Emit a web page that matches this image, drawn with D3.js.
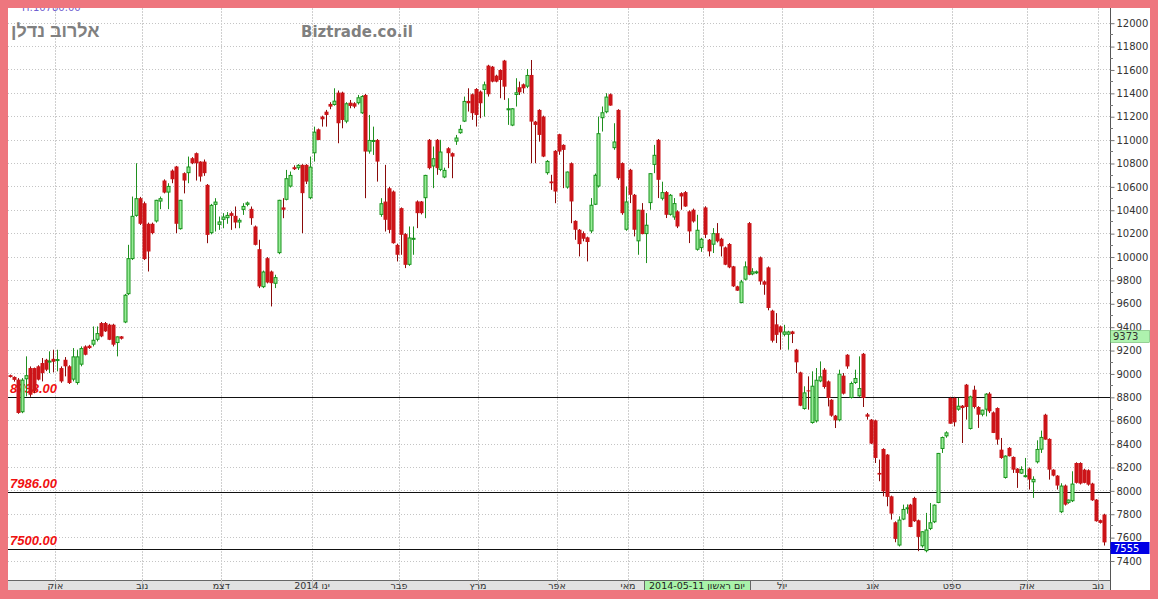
<!DOCTYPE html>
<html><head><meta charset="utf-8">
<script src="https://cdnjs.cloudflare.com/ajax/libs/d3/7.8.5/d3.min.js"></script>
<style>html,body{margin:0;padding:0;background:#fff;}svg{display:block;}</style>
</head><body>
<script>
// ---- DATA ----
const openV = [8985,8970,8947,8668,8950,9046,9046,9061,9089,9117,9103,9125,9110,9046,9117,9061,8947,8918,9075,9231,9237,9246,9288,9431,9431,9417,9417,9260,9317,9436,
9678,9978,10348,10499,10456,10280,10280,10300,10470,10650,10547,10735,10770,10234,10713,10713,10841,10884,10812,10812,
10613,10200,10442,10271,10314,10328,10371,10348,10291,10399,10442,10408,10257,10063,9738,9986,9872,9767,10029,10420,
10485,10598,10764,10755,10784,10784,10499,10883,11088,11197,11239,11305,11296,11402,11402,11154,11316,11311,11311,11225,
11382,10898,10990,10997,10356,10470,10584,10556,10100,10414,10192,9929,10150,10471,10471,10499,10998,10770,10998,10741,
10676,10926,10884,10983,11055,11154,11331,11388,11433,11411,11425,11633,11624,11547,11596,11676,11258,11120,11382,11448,
11473,11453,11553,11154,11254,11197,10713,10642,10904,11046,10955,10590,10798,10305,10229,10200,10164,10215,10443,10599,
11183,11234,11388,10927,11254,10799,10229,10742,10528,10130,10400,10192,10457,10784,10998,10494,10551,10357,10334,10386,
10542,10551,10386,10400,10058,10072,10420,10144,10101,10200,10152,10078,10107,9916,9745,9602,9802,10286,9848,9860,
9993,9787,9907,9537,9420,9402,9331,9331,9359,9203,9009,8696,8855,8576,8590,8932,9032,8932,8775,8639,
8599,8981,9160,8790,8918,8804,9168,8650,8605,8599,8149,8354,8306,7949,7727,7528,7750,7841,7878,7935,
7744,7522,7480,7670,7727,7892,8354,8462,8790,8790,8690,8724,8904,8525,8861,8713,8647,8690,8827,8667,
8704,8348,8106,8363,8286,8186,8143,8120,8186,8069,8240,8348,8647,8440,8177,8126,7813,8041,7893,7907,
8234,8234,8177,8172,8058,7921,7745,7793];
const highV = [8990,8975,8960,8960,9146,9060,9050,9070,9132,9125,9189,9203,9203,9060,9140,9070,9217,9203,9231,9240,9245,9402,9402,9440,9440,9425,9425,9317,9320,9680,
10100,10513,10798,10510,10470,10290,10290,10485,10513,10660,10627,10745,10775,10485,10720,10855,10850,10890,10815,10830,
10620,10450,10499,10342,10371,10380,10385,10428,10328,10456,10470,10428,10265,10143,9880,9995,9880,9844,10485,10499,
10741,10727,10780,10790,10790,10790,10855,11111,11095,11205,11254,11320,11439,11420,11410,11320,11339,11320,11382,11380,
11390,11211,11111,11005,10499,10784,10595,10565,10110,10420,10200,10257,10257,10480,10475,10699,11005,10941,11005,10998,
10760,10935,10890,11040,11126,11368,11439,11395,11440,11420,11496,11640,11630,11555,11600,11682,11354,11270,11525,11496,
11480,11604,11681,11160,11260,11205,10825,10699,10910,11050,10960,10727,10805,10310,10235,10215,10170,10500,10710,11197,
11283,11397,11395,11140,11260,10805,10599,10750,10535,10400,10457,10371,10713,10955,11005,10640,10560,10535,10500,10395,
10550,10560,10395,10410,10357,10160,10430,10150,10243,10286,10160,10085,10115,9920,9750,9800,9958,10295,9900,9880,
10000,9795,9915,9545,9516,9410,9416,9365,9365,9210,9015,8890,8975,9018,9046,9103,9046,8940,8780,8645,
9032,9003,9165,8930,9032,9146,9175,8662,8610,8605,8263,8360,8310,7955,7735,7778,7878,7880,7885,7945,
7750,7650,7807,7892,7880,8320,8460,8505,8800,8800,8790,8730,8910,8810,8895,8720,8690,8832,8840,8675,
8710,8448,8300,8370,8290,8190,8206,8277,8195,8120,8428,8511,8655,8445,8180,8130,8061,8050,7921,8163,
8240,8240,8185,8180,8065,7925,7750,7800];
const lowV = [8965,8930,8655,8660,8804,8800,8830,8940,8932,9020,9003,9009,9018,8920,8975,8910,8932,8904,9061,9155,9210,9231,9274,9310,9355,9285,9231,9146,9290,9430,
9670,9970,10340,10270,9970,9872,10190,10290,10405,10540,10405,10627,10200,10230,10540,10627,10790,10650,10641,10690,
10114,10190,10214,10228,10242,10280,10228,10242,10242,10356,10430,10271,10095,9730,9730,9770,9573,9730,10020,10328,
10480,10590,10740,10740,10200,10620,10490,10812,10995,11111,11111,11260,11290,10969,11097,11140,11268,11268,11300,11220,
10499,10880,10869,10641,10340,10214,10200,10110,9958,10015,9901,9920,10015,10243,10360,10328,10745,10585,10699,10730,
10670,10756,10670,10955,11050,11150,11240,11169,11112,11183,11197,11368,11490,11490,11354,11340,11126,11115,11283,11382,
11396,11440,10798,10798,10983,10850,10700,10570,10456,10870,10585,10580,10285,10143,10001,10130,9958,10200,10440,10590,
11069,11225,11290,10913,10656,10357,10220,10457,10172,10015,10190,9944,10400,10713,10500,10480,10329,10350,10314,10243,
10400,10425,10115,10290,10050,10040,10158,10001,10030,10120,10001,9926,9900,9740,9706,9600,9795,9840,9840,9850,
9759,9673,9540,9265,9260,9203,9317,9203,9260,9003,8720,8690,8690,8570,8580,8925,8870,8718,8630,8533,
8590,8820,9040,8785,8910,8800,8713,8605,8395,8234,8078,7949,7864,7750,7556,7520,7745,7800,7685,7730,
7480,7510,7470,7660,7720,7890,8320,8450,8570,8547,8680,8405,8605,8520,8700,8534,8633,8633,8662,8490,
8391,8270,8100,8290,8149,8021,8140,8110,8007,7935,8230,8320,8434,8092,8120,8007,7805,7870,7885,7900,
8058,8050,8060,8040,7910,7732,7716,7528];
const closeV = [8970,8945,8662,8947,8985,8818,8850,8947,9003,9032,9110,9100,9123,8932,9061,8918,9146,9146,9217,9160,9217,9288,9345,9317,9360,9288,9246,9317,9297,9673,
9986,10348,10499,10280,9978,10043,10200,10485,10499,10547,10604,10661,10280,10485,10650,10770,10798,10798,10684,10713,
10185,10442,10470,10300,10342,10356,10348,10291,10314,10433,10462,10328,10100,9744,9872,9778,9772,9824,10485,10400,
10670,10698,10747,10784,10542,10641,10769,11068,10997,11174,11211,11282,11333,11140,11168,11311,11288,11282,11362,11373,
10898,10997,10997,10812,10456,10314,10228,10114,10015,10186,9929,10163,10160,10371,10371,10698,10756,10841,10756,10898,
10741,10884,10855,11018,11092,11331,11311,11226,11211,11311,11473,11388,11496,11496,11510,11453,11268,11268,11405,11405,
11439,11553,11154,11126,11040,10855,10818,10627,10556,10898,10912,10727,10471,10229,10106,10152,10124,10443,10699,11055,
11234,11368,11291,10984,10670,10371,10471,10528,10229,10400,10192,10272,10713,10870,10656,10551,10357,10528,10457,10257,
10514,10428,10215,10300,10229,10152,10186,10044,10200,10130,10087,9930,9907,9745,9708,9787,9916,9844,9873,9873,
9787,9759,9560,9280,9330,9351,9359,9359,9337,9095,8724,8838,8847,8895,8946,8975,8884,8790,8639,8599,
8998,8827,9060,8918,8961,8875,8790,8630,8400,8277,8135,7992,7944,7801,7585,7750,7841,7855,7687,7736,
7602,7650,7665,7727,7878,8320,8456,8496,8570,8582,8724,8704,8713,8804,8713,8647,8690,8827,8676,8491,
8434,8277,8297,8292,8177,8149,8183,8130,8092,8098,8354,8457,8434,8177,8126,8041,8041,7878,7921,8058,
8064,8058,8064,8049,7915,7736,7722,7555];

const monthLabels = ["אוק","נוב","דצמ","2014 ינו","פבר","מרץ","אפר","מאי","יונ","יול","אוג","ספט","אוק","נוב"];
const monthStartIdx = [12,34,54,77,99,119,139,157,176,196,219,239,258,276];
const yTickValues = [12000,11800,11600,11400,11200,11000,10800,10600,10400,10200,10000,9800,9600,9400,9200,9000,8800,8600,8400,8200,8000,7800,7600,7400];
const levelValues = [8798, 7986, 7500];
const levelLabels = ["8798.00", "7986.00", "7500.00"];
const markerValue = 9373;
const lastValue = 7555;
const stockName = "אלרוב נדלן";
const siteName = "Biztrade.co.il";
const topInfo = "H:10780.00";
const cursorDate = "2014-05-11 יום ראשון";
const cursorIdx = 174;

// ---- LAYOUT ----
const W = 1158, H = 599;
const plotL = 8, plotR = 1110, plotT = 8, plotB = 580, bandB = 590, frameR = 1150;
const N = closeV.length;

const svg = d3.select("body").append("svg").attr("width", W).attr("height", H)
  .style("font-family", "'DejaVu Sans', sans-serif");

const x = d3.scaleLinear().domain([0, N - 1]).range([10, 1104]);
const y = d3.scaleLinear().domain([7400, 12000]).range([560.5, 22.7]);
const step = (x(1) - x(0));

// frame
svg.append("rect").attr("width", W).attr("height", H).attr("fill", "#ee767e");
svg.append("rect").attr("x", plotL).attr("y", plotT).attr("width", frameR - plotL).attr("height", bandB - plotT).attr("fill", "#ffffff");

// top purple info (partly hidden by frame)
svg.append("text").attr("x", 22).attr("y", 11).attr("font-size", 10).attr("fill", "#6f5fd0").text(topInfo);

// horizontal grid
svg.append("g").selectAll("line").data(yTickValues).join("line")
  .attr("x1", plotL).attr("x2", plotR)
  .attr("y1", d => Math.round(y(d)) + 0.5).attr("y2", d => Math.round(y(d)) + 0.5)
  .attr("stroke", "#c4c4c4").attr("stroke-dasharray", "1,2");

// vertical grid at month starts
const gx = i => Math.round(x(i) - step / 2) + 0.5;
svg.append("g").selectAll("line").data(monthStartIdx).join("line")
  .attr("x1", gx).attr("x2", gx).attr("y1", plotT).attr("y2", bandB)
  .attr("stroke", "#cfcfcf").attr("stroke-dasharray", "2,1");

// title texts
svg.append("text").attr("x", 11).attr("y", 37).attr("font-size", 18).attr("font-weight", "bold")
  .attr("font-family", "'Liberation Sans', 'DejaVu Sans', sans-serif").attr("fill", "#808080").text(stockName);
svg.append("text").attr("x", 301).attr("y", 37).attr("font-size", 15).attr("font-weight", "bold")
  .attr("fill", "#808080").text(siteName);

// level lines + labels
svg.append("g").selectAll("line").data(levelValues).join("line")
  .attr("x1", plotL).attr("x2", plotR)
  .attr("y1", d => Math.round(y(d)) + 0.5).attr("y2", d => Math.round(y(d)) + 0.5)
  .attr("stroke", "#111").attr("stroke-width", 1);
svg.append("g").selectAll("text").data(levelValues).join("text")
  .attr("x", 10).attr("y", d => Math.round(y(d)) - 4)
  .attr("font-family", "'Liberation Sans', sans-serif")
  .attr("font-size", 13).attr("font-weight", "bold").attr("font-style", "italic")
  .attr("fill", "#f01010").text((d, i) => levelLabels[i]);

// candles
svg.append("clipPath").attr("id", "plotclip").append("rect")
  .attr("x", plotL).attr("y", plotT).attr("width", plotR - plotL).attr("height", plotB - plotT);
const cg = svg.append("g").attr("clip-path", "url(#plotclip)");
const idx = d3.range(N);
const up = i => closeV[i] >= openV[i];
const cx = i => Math.round(x(i));
cg.selectAll("line.wick").data(idx).join("line").attr("class", "wick")
  .attr("x1", i => cx(i) + 0.5).attr("x2", i => cx(i) + 0.5)
  .attr("y1", i => y(Math.max(highV[i], openV[i], closeV[i])))
  .attr("y2", i => y(Math.min(lowV[i], openV[i], closeV[i])))
  .attr("stroke", i => up(i) ? "#1f8f1f" : "#8a0a0a").attr("stroke-width", 1);
cg.selectAll("rect.body").data(idx).join("rect").attr("class", "body")
  .attr("x", i => up(i) ? cx(i) - 1 : cx(i) - 1.5)
  .attr("width", i => up(i) ? 3 : 4)
  .attr("y", i => up(i) ? y(Math.max(openV[i], closeV[i])) + 0.5 : y(Math.max(openV[i], closeV[i])))
  .attr("height", i => Math.max(1, Math.abs(y(openV[i]) - y(closeV[i])) - (up(i) ? 1 : 0)))
  .attr("fill", i => up(i) ? "#98ec98" : "#cc1418")
  .attr("stroke", i => up(i) ? "#18941c" : "none").attr("stroke-width", 1);

// bottom band
svg.append("rect").attr("x", plotL).attr("y", plotB).attr("width", plotR - plotL).attr("height", bandB - plotB).attr("fill", "#e1e1e1");
svg.append("line").attr("x1", plotL).attr("x2", plotR).attr("y1", plotB + 0.5).attr("y2", plotB + 0.5).attr("stroke", "#666");
svg.append("g").selectAll("line").data(monthStartIdx).join("line")
  .attr("x1", gx).attr("x2", gx).attr("y1", plotB).attr("y2", bandB).attr("stroke", "#bdbdbd");

// cursor date box geometry (month label hidden beneath it, as in the original)
const dateBoxX = Math.round(x(cursorIdx)) - 53;
const dateBoxW = 106;
const hidden = i => { const p = x(i) - step / 2; return p > dateBoxX - 8 && p < dateBoxX + dateBoxW + 8; };
svg.append("g").selectAll("text").data(monthStartIdx.map((d, k) => ({ d, k })).filter(o => !hidden(o.d))).join("text")
  .attr("x", o => x(o.d) - step / 2).attr("y", 588.5).attr("text-anchor", "middle")
  .attr("font-size", 9.5).attr("fill", "#333").text(o => monthLabels[o.k]);

svg.append("rect").attr("x", dateBoxX + 0.5).attr("y", plotB + 0.5).attr("width", dateBoxW).attr("height", 10)
  .attr("fill", "#a9f2a9").attr("stroke", "#666");
svg.append("text").attr("x", dateBoxX + dateBoxW / 2).attr("y", 588.8).attr("text-anchor", "middle")
  .attr("font-size", 9.5).attr("fill", "#222").text(cursorDate);

// right axis
svg.append("line").attr("x1", plotR + 0.5).attr("x2", plotR + 0.5).attr("y1", plotT).attr("y2", bandB).attr("stroke", "#555");
const yMinor = yTickValues.slice(0, -1).map(v => v - 100);
svg.append("g").selectAll("line").data(yMinor).join("line")
  .attr("x1", plotR).attr("x2", plotR + 3)
  .attr("y1", d => Math.round(y(d)) + 0.5).attr("y2", d => Math.round(y(d)) + 0.5).attr("stroke", "#777");
const yAxis = d3.axisRight(y).tickValues(yTickValues).tickSize(4).tickPadding(2).tickFormat(d3.format("d"));
const ag = svg.append("g").attr("transform", `translate(${plotR + 0.5},0.5)`).call(yAxis);
ag.select(".domain").remove();
ag.selectAll(".tick line").attr("stroke", "#777");
ag.selectAll(".tick text").attr("font-size", 10).attr("fill", "#333").attr("font-family", "'DejaVu Sans', sans-serif");

// price markers on axis
svg.append("rect").attr("x", plotR + 0.5).attr("y", Math.round(y(markerValue)) + 0.5).attr("width", 39).attr("height", 12)
  .attr("fill", "#aef2ae").attr("stroke", "#5a5").attr("stroke-width", 0.5);
svg.append("text").attr("x", plotR + 3).attr("y", Math.round(y(markerValue)) + 10).attr("font-size", 10).attr("fill", "#333").text(markerValue);
svg.append("rect").attr("x", plotR + 0.5).attr("y", Math.round(y(lastValue))).attr("width", 39).attr("height", 12)
  .attr("fill", "#0000e6");
svg.append("text").attr("x", plotR + 4).attr("y", Math.round(y(lastValue)) + 10).attr("font-size", 10).attr("fill", "#fff").text(lastValue);

// frame overlay (top/right/bottom edges)
svg.append("rect").attr("x", 0).attr("y", 0).attr("width", W).attr("height", plotT).attr("fill", "#ee767e");
svg.append("rect").attr("x", frameR).attr("y", 0).attr("width", W - frameR).attr("height", H).attr("fill", "#ee767e");
svg.append("rect").attr("x", 0).attr("y", bandB).attr("width", W).attr("height", H - bandB).attr("fill", "#ee767e");
</script>
</body></html>
